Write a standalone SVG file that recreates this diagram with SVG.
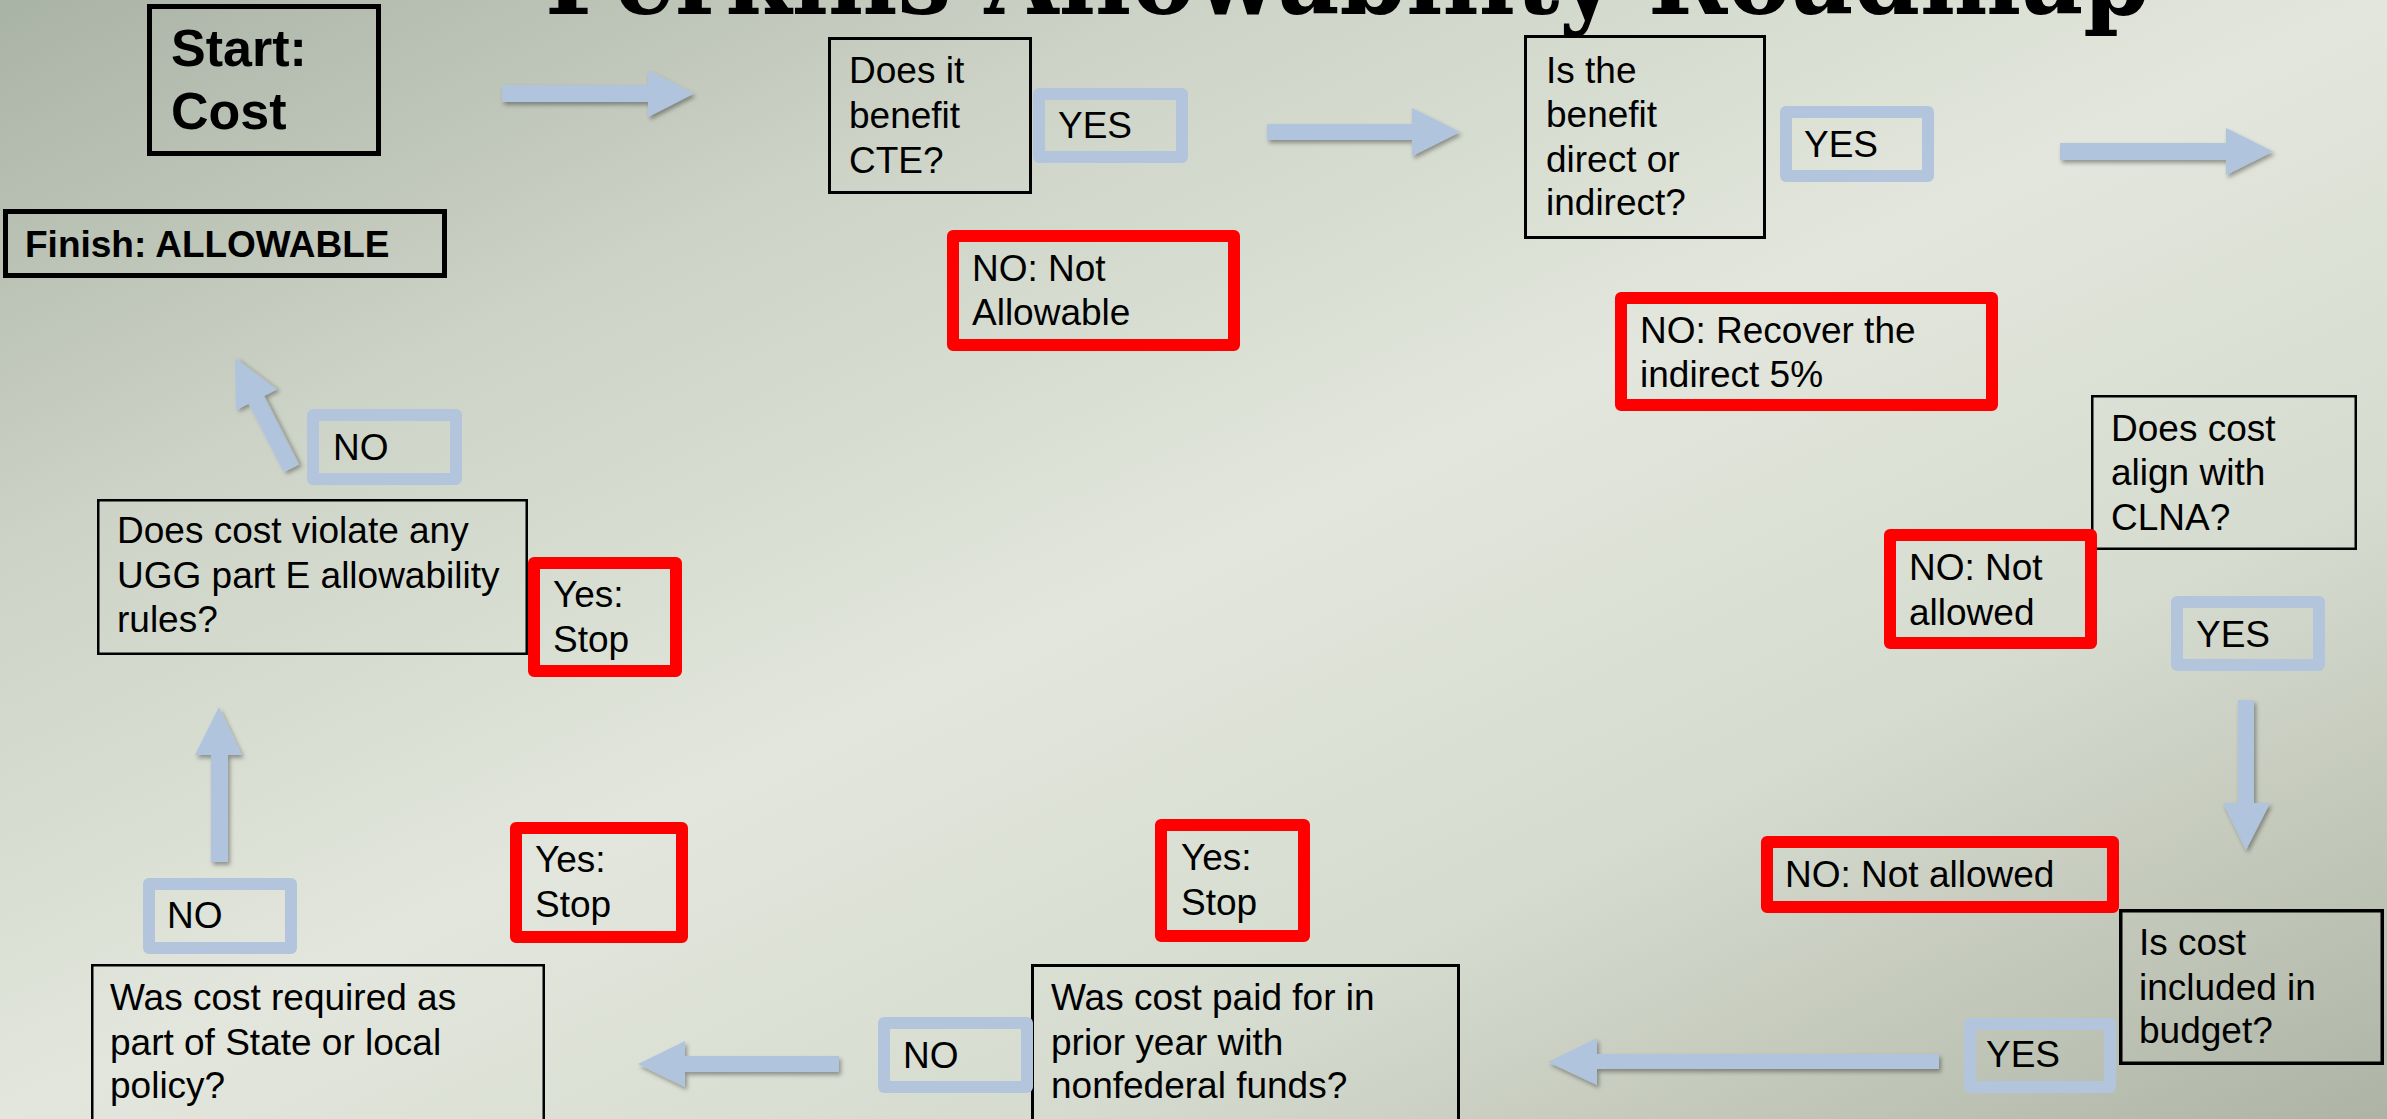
<svg xmlns="http://www.w3.org/2000/svg" width="2387" height="1119" viewBox="0 0 2387 1119">
<defs>
<linearGradient id="bg" x1="0" y1="0" x2="1" y2="1">
<stop offset="0" stop-color="#A9B3A5"/>
<stop offset="0.25" stop-color="#CDD3C6"/>
<stop offset="0.5" stop-color="#E2E6DC"/>
<stop offset="0.72" stop-color="#D6DBCF"/>
<stop offset="1" stop-color="#AEB4A5"/>
</linearGradient>
<filter id="sh" x="-20%" y="-20%" width="140%" height="160%">
<feDropShadow dx="2" dy="3" stdDeviation="2" flood-color="#000" flood-opacity="0.35"/>
</filter>
</defs>
<style>
text{font-family:"Liberation Sans",Arial,sans-serif;font-size:37px;fill:#000}
.b{font-weight:bold}
.q{fill:none;stroke:#000}
.y{fill:none;stroke:#B3C5DC;stroke-width:12;stroke-linejoin:round}
.r{fill:none;stroke:#FF0000;stroke-width:12;stroke-linejoin:round}
.ar{fill:#B0C4DE;filter:url(#sh)}
.title{font-family:"DejaVu Serif","Liberation Serif",serif;font-weight:bold;font-size:105px}
</style>
<rect x="0" y="0" width="2387" height="1119" fill="url(#bg)"/>
<text class="title" x="545" y="14" textLength="1605" lengthAdjust="spacingAndGlyphs">Perkins Allowability Roadmap</text>

<g id="connectors">
<polygon class="ar" points="502,85 648,85 648,70 694,93.5 648,117 648,102 502,102"/>
<polygon class="ar" points="1267,124 1412,124 1412,108 1460,132 1412,156 1412,140 1267,140"/>
<polygon class="ar" points="2060,143 2226,143 2226,128 2273,151.5 2226,175 2226,160 2060,160"/>
<polygon class="ar" points="2238,700 2254,700 2254,803 2270,803 2246,850 2223,803 2238,803"/>
<polygon class="ar" points="1939,1054 1597,1054 1597,1038 1548,1062 1597,1085 1597,1069 1939,1069"/>
<polygon class="ar" points="839,1056 685,1056 685,1041 638,1064 685,1087 685,1072 839,1072"/>
<polygon class="ar" points="211,862 211,755 195,755 219,707 242,755 228,755 228,862"/>
<polygon class="ar" transform="translate(235,358) rotate(-27)" points="0,0 23,47 8.5,47 8.5,124 -8.5,124 -8.5,47 -23,47"/>
</g>

<g id="start"><rect class="q" stroke-width="5" x="149.5" y="6.5" width="229" height="147"/>
<text class="b" style="font-size:52px" x="171" y="66">Start:</text><text class="b" style="font-size:52px" x="171" y="129">Cost</text></g>

<g id="finish"><rect class="q" stroke-width="5" x="5.5" y="211.5" width="439" height="64"/>
<text class="b" x="25" y="257">Finish: ALLOWABLE</text></g>

<g id="q-cte"><rect class="q" stroke-width="3" x="829.5" y="38.5" width="201" height="154"/>
<text x="849" y="83">Does it</text><text x="849" y="128">benefit</text><text x="849" y="173">CTE?</text></g>

<g id="yes-cte"><rect class="y" x="1039" y="94" width="143" height="63"/><text x="1058" y="138">YES</text></g>

<g id="no-cte"><rect class="r" x="953" y="236" width="281" height="109"/>
<text x="972" y="281">NO: Not</text><text x="972" y="325">Allowable</text></g>

<g id="q-direct"><rect class="q" stroke-width="3" x="1525.5" y="36.5" width="239" height="201"/>
<text x="1546" y="83">Is the</text><text x="1546" y="127">benefit</text><text x="1546" y="172">direct or</text><text x="1546" y="215">indirect?</text></g>

<g id="yes-direct"><rect class="y" x="1786" y="112" width="142" height="64"/><text x="1804" y="157">YES</text></g>

<g id="no-direct"><rect class="r" x="1621" y="298" width="371" height="107"/>
<text x="1640" y="343">NO: Recover the</text><text x="1640" y="387">indirect 5%</text></g>

<g id="q-clna"><rect class="q" stroke-width="2.5" x="2092.25" y="396.25" width="263.5" height="152.5"/>
<text x="2111" y="441">Does cost</text><text x="2111" y="485">align with</text><text x="2111" y="530">CLNA?</text></g>

<g id="no-clna"><rect class="r" x="1890" y="535" width="201" height="108"/>
<text x="1909" y="580">NO: Not</text><text x="1909" y="625">allowed</text></g>

<g id="yes-clna"><rect class="y" x="2177" y="602" width="142" height="63"/><text x="2196" y="647">YES</text></g>

<g id="no-budget"><rect class="r" x="1767" y="842" width="346" height="65"/>
<text x="1785" y="887">NO: Not allowed</text></g>

<g id="q-budget"><rect class="q" stroke-width="3.5" x="2120.75" y="910.75" width="261.5" height="152.5"/>
<text x="2139" y="955">Is cost</text><text x="2139" y="1000">included in</text><text x="2139" y="1043">budget?</text></g>

<g id="yes-budget"><rect class="y" x="1970" y="1024" width="140" height="63"/><text x="1986" y="1067">YES</text></g>

<g id="q-prior"><rect class="q" stroke-width="3" x="1032.5" y="965.5" width="426" height="200"/>
<text x="1051" y="1010">Was cost paid for in</text><text x="1051" y="1055">prior year with</text><text x="1051" y="1098">nonfederal funds?</text></g>

<g id="yes-prior"><rect class="r" x="1161" y="825" width="143" height="111"/>
<text x="1181" y="870">Yes:</text><text x="1181" y="915">Stop</text></g>

<g id="no-prior"><rect class="y" x="884" y="1023" width="143" height="64"/><text x="903" y="1068">NO</text></g>

<g id="q-policy"><rect class="q" stroke-width="2.5" x="92.25" y="965.25" width="451.5" height="200"/>
<text x="110" y="1010">Was cost required as</text><text x="110" y="1055">part of State or local</text><text x="110" y="1098">policy?</text></g>

<g id="yes-policy"><rect class="r" x="516" y="828" width="166" height="109"/>
<text x="535" y="872">Yes:</text><text x="535" y="917">Stop</text></g>

<g id="no-policy"><rect class="y" x="149" y="884" width="142" height="64"/><text x="167" y="928">NO</text></g>

<g id="q-ugg"><rect class="q" stroke-width="2.5" x="98.25" y="500.25" width="428.5" height="153.5"/>
<text x="117" y="543">Does cost violate any</text><text x="117" y="588">UGG part E allowability</text><text x="117" y="632">rules?</text></g>

<g id="yes-ugg"><rect class="r" x="534" y="563" width="142" height="108"/>
<text x="553" y="607">Yes:</text><text x="553" y="652">Stop</text></g>

<g id="no-ugg"><rect class="y" x="313" y="415" width="143" height="64"/><text x="333" y="460">NO</text></g>
</svg>
